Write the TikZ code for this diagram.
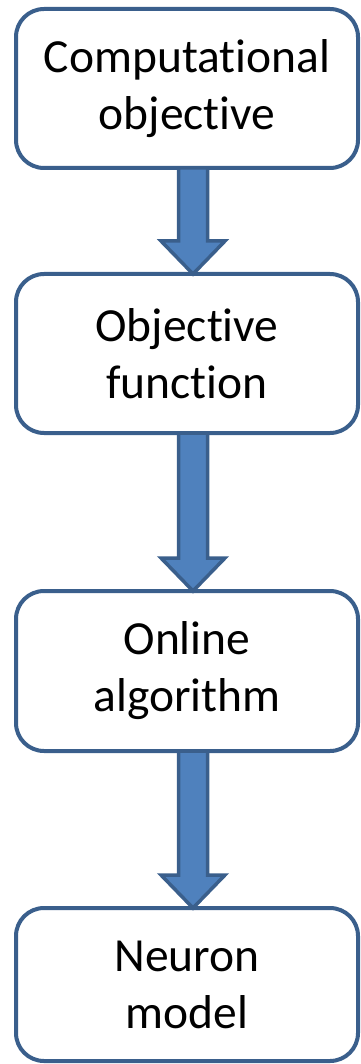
\documentclass[tikz,border=0pt]{standalone}
\usepackage{fontspec}
\setmainfont{Carlito}[Ligatures={NoCommon,NoContextual,NoRequired}]
\usetikzlibrary{calc}
\definecolor{bordc}{HTML}{3A5F8C}
\definecolor{arrowc}{HTML}{4F81BD}
\newcommand\blockarrow[2]{%
  \path let \p1=(#1.south), \p2=(#2.north) in
    [draw=bordc, fill=arrowc, line width=3.5pt, line join=miter]
    (\x1+6pt-14.5pt,\y1) -- (\x1+6pt+14.5pt,\y1) -- (\x1+6pt+14.5pt,\y2+33pt)
    -- (\x1+6pt+32pt,\y2+33pt) -- (\x1+6pt,\y2) -- (\x1+6pt-32pt,\y2+33pt)
    -- (\x1+6pt-14.5pt,\y2+33pt) -- cycle;}
\begin{document}
\begin{tikzpicture}[x=1pt,y=-1pt,
  box/.style={draw=bordc, line width=4pt, fill=white, rounded corners=28pt,
    minimum width=342pt, outer sep=0pt, inner sep=0pt, align=center,
    font=\fontsize{47.5}{57}\selectfont}]
\useasboundingbox (0,0) rectangle (360,1064);
\node[box, minimum height=159pt] (b1) at (187,88.5) {Computational\\objective};
\node[box, minimum height=159pt] (b2) at (187,353.5) {Objective\\function};
\node[box, minimum height=160pt] (b3) at (187,671) {Online\\algorithm};
\node[box, minimum height=153pt] (b4) at (187,984.5) {Neuron\\model};
\blockarrow{b1}{b2}
\blockarrow{b2}{b3}
\blockarrow{b3}{b4}
\end{tikzpicture}
\end{document}
